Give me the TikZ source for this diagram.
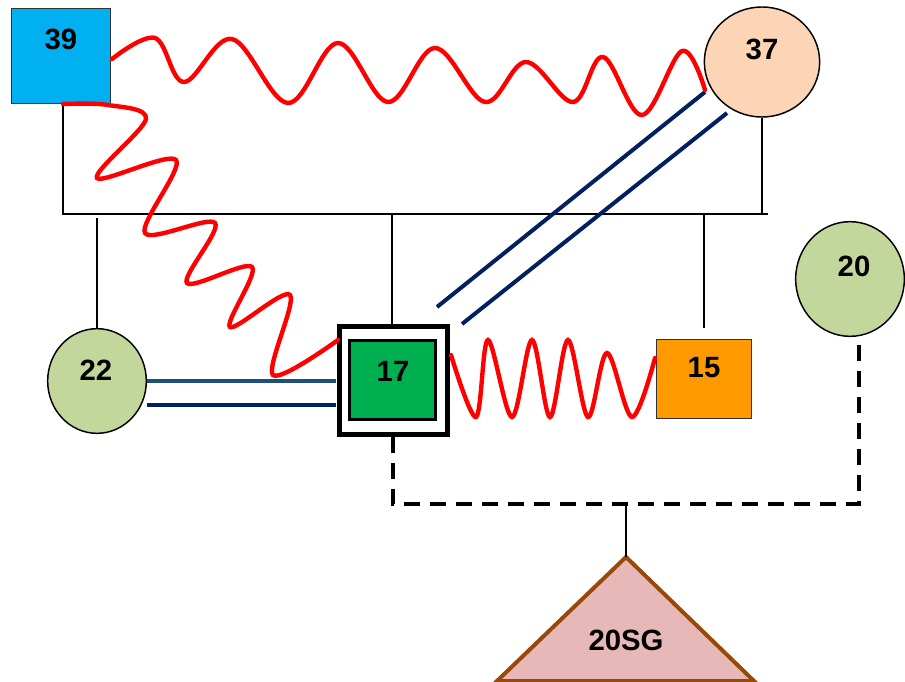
\documentclass[tikz,border=0pt]{standalone}
\usepackage{fontspec}
\setmainfont{Liberation Sans}
\usetikzlibrary{shapes.geometric}
\definecolor{cyanbox}{HTML}{00B0F0}
\definecolor{peach}{HTML}{FBD5B5}
\definecolor{sage}{HTML}{C3D69B}
\definecolor{greenbox}{HTML}{00B050}
\definecolor{orangebox}{HTML}{FF9900}
\definecolor{pinktri}{HTML}{E6B9B8}
\definecolor{browntri}{HTML}{984807}
\definecolor{navy}{HTML}{002060}
\definecolor{steel}{HTML}{1F4E79}
\begin{document}
\begin{tikzpicture}[x=0.75pt,y=-0.75pt,
  lbl/.style={font=\fontsize{22}{26}\selectfont\bfseries, inner sep=0pt},
  kin/.style={line width=1.1pt, black},
  wave/.style={red, line width=3.3pt, line cap=round},
  navyline/.style={navy, line width=3pt},
  dashline/.style={black, line width=2.4pt, dash pattern=on 12pt off 7.5pt},
  circ/.style={ellipse, draw=black, line width=1.1pt, inner sep=0pt},
  sq/.style={rectangle, draw=black!80, line width=1.1pt, inner sep=0pt}]
\useasboundingbox (0,0) rectangle (905,681);

% persons
\node[sq, fill=cyanbox, minimum width=74pt, minimum height=71pt] (n39) at (61,56) {};
\node[circ, fill=peach, minimum width=86.5pt, minimum height=82.5pt] (n37) at (762,62) {};
\node[circ, fill=sage, minimum width=74pt, minimum height=78.5pt] (n22) at (97,381) {};
\node[circ, fill=sage, minimum width=81.5pt, minimum height=86pt] (n20) at (850,279) {};
\node[sq, fill=orangebox, minimum width=71pt, minimum height=59pt] (n15) at (704,379) {};
\node[rectangle, draw=black, fill=white, line width=3.75pt, minimum width=81pt, minimum height=81pt, inner sep=0pt] (n17o) at (393.3,380.3) {};
\node[rectangle, draw=black, fill=greenbox, line width=2.25pt, minimum width=64.5pt, minimum height=59.5pt, inner sep=0pt] (n17) at (392.5,380) {};

% labels
\node[lbl] (l39) at (61,39) {39};
\node[lbl] (l37) at (762,49) {37};
\node[lbl] (l22) at (96,370) {22};
\node[lbl] (l20) at (854,266) {20};
\node[lbl] (l15) at (704,368) {15};
\node[lbl] (l17) at (393,371) {17};

% triangle
\coordinate (apex) at (626,557);
\coordinate (tl) at (497,681);
\coordinate (tr) at (754,681);
\draw[browntri, fill=pinktri, line width=3pt, line join=miter] (apex) -- (tl) -- (tr) -- cycle;
\node[lbl] (lsg) at (626,640) {20SG};

% kinship lines
\coordinate (hl) at (63,214);
\coordinate (hr) at (768,214);
\coordinate (d22) at (97,218);
\coordinate (d17) at (392,214);
\coordinate (d15) at (704,214);
\coordinate (b39) at (63,104);
\draw[kin] (b39) -- (hl) -- (hr);
\draw[kin] (n37.south) -- (n37.south |- hr);
\draw[kin] (d22) -- (n22.north);
\draw[kin] (d17) -- (d17 |- n17o.north);
\coordinate (e15) at (704,328);
\draw[kin] (d15) -- (e15);

% dashed sibling group line
\coordinate (dc1) at (393,504);
\coordinate (dc2) at (859,504);
\coordinate (d20) at (859,338);
\coordinate (top17) at (393,437);
\draw[dashline] (top17) -- (dc1) -- (dc2) -- (d20);
\coordinate (tj) at (626,504);
\draw[kin] (tj) -- (apex);

% navy double lines
\coordinate (a1) at (147,381);
\coordinate (a2) at (336,381);
\coordinate (b1) at (147,405);
\coordinate (b2) at (336,405);
\draw[steel, line width=3pt] (a1) -- (a2);
\draw[navyline] (b1) -- (b2);
\coordinate (c1) at (437,307);
\coordinate (c2) at (705,92);
\coordinate (c3) at (462,324);
\coordinate (c4) at (727,113);
\draw[navyline] (c1) -- (c2);
\draw[navyline] (c3) -- (c4);

% red wavy lines
\coordinate (w1s) at (112,59);
\coordinate (w1e) at (705,90);
\draw[wave] plot[smooth, tension=0.6] coordinates {(w1s) (155,38) (184,82) (232,39) (288,103) (338,43) (388,102) (435,48) (485,102) (526,62) (573,102) (603,57) (642,115) (682,51) (w1e)};
\coordinate (w2e) at (338,340);
\draw[wave] plot[smooth, tension=0.55] coordinates {(b39) (108,105) (146,119) (97,178) (176,160) (145,233) (215,223) (187,283) (252,267) (230,327) (290,295) (273,375) (w2e)};
\coordinate (w3s) at (451,355);
\coordinate (w3e) at (655,358);
\draw[wave] plot[smooth, tension=0.55] coordinates {(w3s) (476,417) (488,340) (512,417) (532,340) (550,417) (568,340) (588,417) (607,353) (632,417) (w3e)};
\end{tikzpicture}
\end{document}
